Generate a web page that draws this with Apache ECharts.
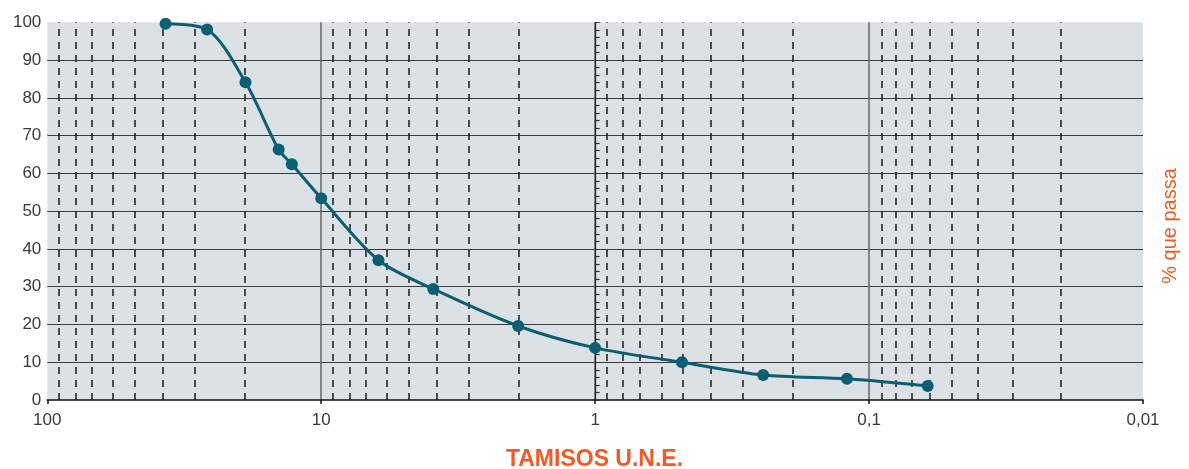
<!DOCTYPE html>
<html><head><meta charset="utf-8">
<script src="https://cdn.jsdelivr.net/npm/echarts/dist/echarts.min.js"></script>
<style>html,body{margin:0;padding:0;background:#fff}#c{width:1189px;height:469px}</style>
</head><body><div id="c"></div>
<script>
// Data
const sieveSizes = [37.0, 26.1, 18.9, 14.3, 12.8, 10, 6.18, 3.9, 1.91, 1.0, 0.482, 0.2435, 0.1204, 0.0611];
const percentPassing = [99.6, 98.1, 84.1, 66.3, 62.4, 53.4, 37.0, 29.4, 19.6, 13.8, 10.0, 6.6, 5.6, 3.7];
const decadeBases = [10, 1, 0.1, 0.01];
const minorMantissas = [9.1, 7.9, 6.9, 5.75, 4.8, 3.8, 2.9, 1.9];
const xTickValues = [100, 10, 1, 0.1, 0.01];
const xAxisTitle = 'TAMISOS U.N.E.';
const yAxisTitle = '% que passa';

const chart = echarts.init(document.getElementById('c'), null, {renderer: 'canvas'});
const minorLines = [];
decadeBases.forEach(b => minorMantissas.forEach(m => minorLines.push({xAxis: +(b * m).toPrecision(6)})));
const FONT = '"Liberation Sans", Arial, sans-serif';
const ORANGE = '#f05a24';

chart.setOption({
  animation: false,
  grid: {left: 47.3, right: 46, top: 22.3, bottom: 69, show: true, backgroundColor: '#dce1e5', borderWidth: 0},
  xAxis: {
    type: 'log', logBase: 10, min: 0.01, max: 100, inverse: true, splitNumber: 4,
    axisLine: {show: true, lineStyle: {color: '#111', width: 1.6}},
    axisTick: {show: true, length: 4, lineStyle: {color: '#111', width: 1.5}},
    axisLabel: {color: '#3a3a3a', fontSize: 17, fontFamily: FONT, margin: 12,
      formatter: v => String(+(+v).toPrecision(6)).replace('.', ',')},
    splitLine: {show: true, showMinLine: false, showMaxLine: false, lineStyle: {color: '#666', width: 1.5}}
  },
  yAxis: [{
    type: 'value', min: 0, max: 100, interval: 10,
    axisLine: {show: false}, axisTick: {show: false},
    axisLabel: {color: '#3a3a3a', fontSize: 17, fontFamily: FONT, margin: 6},
    splitLine: {show: true, showMinLine: false, showMaxLine: false, lineStyle: {color: '#3a3a3a', width: 1.2}}
  }, {
    type: 'value', min: 0, max: 100, interval: 10, position: 'left', offset: -548.4,
    axisLine: {show: true, lineStyle: {color: '#222', width: 1.2}},
    axisTick: {show: true, inside: true, length: 4, lineStyle: {color: '#333'}},
    minorTick: {show: true, splitNumber: 5, length: 4, lineStyle: {color: '#333', width: 1.2}},
    axisLabel: {show: false}, splitLine: {show: false}
  }],
  series: [{
    type: 'line', data: [], z: 1, silent: true,
    markLine: {
      silent: true, symbol: ['none', 'none'], label: {show: false}, animation: false,
      lineStyle: {type: [7, 6], color: '#1a1a1a', width: 1.5},
      emphasis: {disabled: true},
      data: minorLines
    }
  }, {
    type: 'line', z: 10,
    data: sieveSizes.map((s, i) => [s, percentPassing[i]]),
    smooth: 0.3,
    symbol: 'circle', symbolSize: 12,
    lineStyle: {color: '#0d5e72', width: 3},
    itemStyle: {color: '#0d5e72'}
  }],
  graphic: [{
    type: 'text', left: 'center', x: 0, top: 448,
    style: {text: xAxisTitle, fill: ORANGE, font: 'bold 23px ' + FONT}
  }, {
    type: 'text', x: 1170, y: 226, rotation: Math.PI / 2,
    style: {text: yAxisTitle, fill: ORANGE, font: '20px ' + FONT, align: 'center', verticalAlign: 'middle'}
  }]
});
</script></body></html>
